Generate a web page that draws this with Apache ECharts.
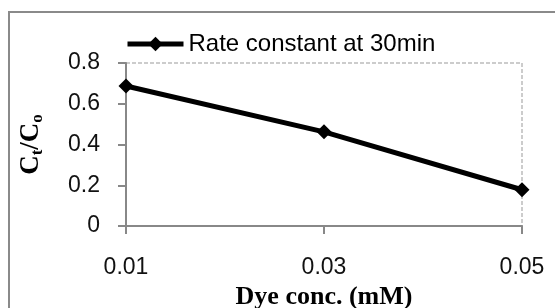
<!DOCTYPE html>
<html>
<head>
<meta charset="utf-8">
<script src="https://cdn.jsdelivr.net/npm/echarts@6/dist/echarts.min.js"></script>
<style>
html,body{margin:0;padding:0;background:#fff;}
#c{width:555px;height:308px;}
</style>
</head>
<body>
<div id="c"></div>
<script>
var categories = ['0.01', '0.03', '0.05'];
var seriesName = 'Rate constant at 30min';
var values = [0.687, 0.462, 0.178];
var yTicks = { min: 0, max: 0.8, interval: 0.2 };

var chart = echarts.init(document.getElementById('c'), null, { renderer: 'canvas' });
var sans = 'Liberation Sans';
var serif = 'Liberation Serif';
chart.setOption({
  animation: false,
  backgroundColor: '#fff',
  graphic: [{
    type: 'rect',
    shape: { x: 9, y: 12, width: 560, height: 310 },
    style: { fill: 'none', stroke: '#8a8a8a', lineWidth: 2 },
    z: -1
  }],
  legend: {
    data: [seriesName],
    left: 120,
    top: 27,
    itemWidth: 56,
    itemHeight: 18,
    itemGap: 5,
    lineStyle: { width: 5, color: '#000' },
    textStyle: { fontFamily: sans, fontSize: 24, color: '#000' }
  },
  grid: {
    left: 126, top: 63, right: 33, bottom: 82,
    show: true,
    borderColor: '#999',
    borderWidth: 1,
    borderType: 'dashed',
    containLabel: false,
    outerBoundsMode: 'none'
  },
  xAxis: {
    type: 'category',
    data: categories,
    boundaryGap: false,
    name: 'Dye conc. (mM)',
    nameLocation: 'middle',
    nameGap: 58,
    nameTextStyle: { fontFamily: serif, fontWeight: 'bold', fontSize: 26, color: '#000' },
    axisLine: { lineStyle: { color: '#888', width: 2 } },
    axisTick: { show: true, length: 8, lineStyle: { color: '#888', width: 2 }, alignWithLabel: true },
    axisLabel: { fontFamily: sans, fontSize: 23, color: '#111', margin: 30 },
    splitLine: { show: false }
  },
  yAxis: {
    type: 'value',
    min: yTicks.min, max: yTicks.max, interval: yTicks.interval,
    name: '{c|C}{s|t}{c|/C}{s|o}',
    nameLocation: 'middle',
    nameGap: 80,
    nameRotate: 90,
    nameTextStyle: {
      rich: {
        c: { fontFamily: serif, fontWeight: 'bold', fontSize: 27, color: '#000' },
        s: { fontFamily: serif, fontWeight: 'bold', fontSize: 17, color: '#000', verticalAlign: 'bottom', padding: [12, 0, 0, 0] }
      }
    },
    axisLine: { show: true, lineStyle: { color: '#888', width: 2 } },
    axisTick: { show: true, length: 8, lineStyle: { color: '#888', width: 2 } },
    axisLabel: { fontFamily: sans, fontSize: 23, color: '#111', margin: 26 },
    splitLine: { show: false }
  },
  series: [{
    name: seriesName,
    type: 'line',
    data: values,
    symbol: 'diamond',
    symbolSize: 15,
    lineStyle: { color: '#000', width: 5 },
    itemStyle: { color: '#000' },
    clip: false
  }]
});
</script>
</body>
</html>
